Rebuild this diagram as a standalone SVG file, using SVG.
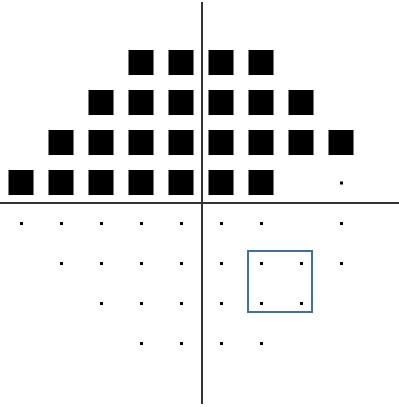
<svg xmlns="http://www.w3.org/2000/svg" width="399" height="407" viewBox="0 0 399 407">
<style>
.sq{fill:#000}
.dot{fill:#000}
.axis{stroke:#333;stroke-width:2;fill:none}
.hl{fill:none;stroke:#41719C;stroke-width:2}
</style>
<defs>
<rect id="s" class="sq" width="25" height="25"/>
<rect id="d" class="dot" x="-1.5" y="-1.5" width="3" height="3"/>
</defs>
<g id="axes">
<line class="axis" x1="0" y1="203" x2="399" y2="203"/>
<line class="axis" x1="202" y1="2" x2="202" y2="404"/>
</g>
<g id="squares">
<use href="#s" x="128.5" y="50"/><use href="#s" x="168.5" y="50"/><use href="#s" x="208.5" y="50"/><use href="#s" x="248.5" y="50"/>
<use href="#s" x="88.5" y="90"/><use href="#s" x="128.5" y="90"/><use href="#s" x="168.5" y="90"/><use href="#s" x="208.5" y="90"/><use href="#s" x="248.5" y="90"/><use href="#s" x="288.5" y="90"/>
<use href="#s" x="48.5" y="130"/><use href="#s" x="88.5" y="130"/><use href="#s" x="128.5" y="130"/><use href="#s" x="168.5" y="130"/><use href="#s" x="208.5" y="130"/><use href="#s" x="248.5" y="130"/><use href="#s" x="288.5" y="130"/><use href="#s" x="328.5" y="130"/>
<use href="#s" x="8.5" y="170"/><use href="#s" x="48.5" y="170"/><use href="#s" x="88.5" y="170"/><use href="#s" x="128.5" y="170"/><use href="#s" x="168.5" y="170"/><use href="#s" x="208.5" y="170"/><use href="#s" x="248.5" y="170"/>
</g>
<g id="dots">
<use href="#d" x="341.5" y="183"/>
<use href="#d" x="21.5" y="223.5"/><use href="#d" x="61.5" y="223.5"/><use href="#d" x="101.5" y="223.5"/><use href="#d" x="141.5" y="223.5"/><use href="#d" x="181.5" y="223.5"/><use href="#d" x="221.5" y="223.5"/><use href="#d" x="261.5" y="223.5"/><use href="#d" x="341.5" y="223.5"/>
<use href="#d" x="61.5" y="263.5"/><use href="#d" x="101.5" y="263.5"/><use href="#d" x="141.5" y="263.5"/><use href="#d" x="181.5" y="263.5"/><use href="#d" x="221.5" y="263.5"/><use href="#d" x="261.5" y="263.5"/><use href="#d" x="301.5" y="263.5"/><use href="#d" x="341.5" y="263.5"/>
<use href="#d" x="101.5" y="303.5"/><use href="#d" x="141.5" y="303.5"/><use href="#d" x="181.5" y="303.5"/><use href="#d" x="221.5" y="303.5"/><use href="#d" x="261.5" y="303.5"/><use href="#d" x="301.5" y="303.5"/>
<use href="#d" x="141.5" y="343.5"/><use href="#d" x="181.5" y="343.5"/><use href="#d" x="221.5" y="343.5"/><use href="#d" x="261.5" y="343.5"/>
</g>
<g id="highlight">
<rect class="hl" x="248" y="251" width="64" height="61"/>
</g>
</svg>
